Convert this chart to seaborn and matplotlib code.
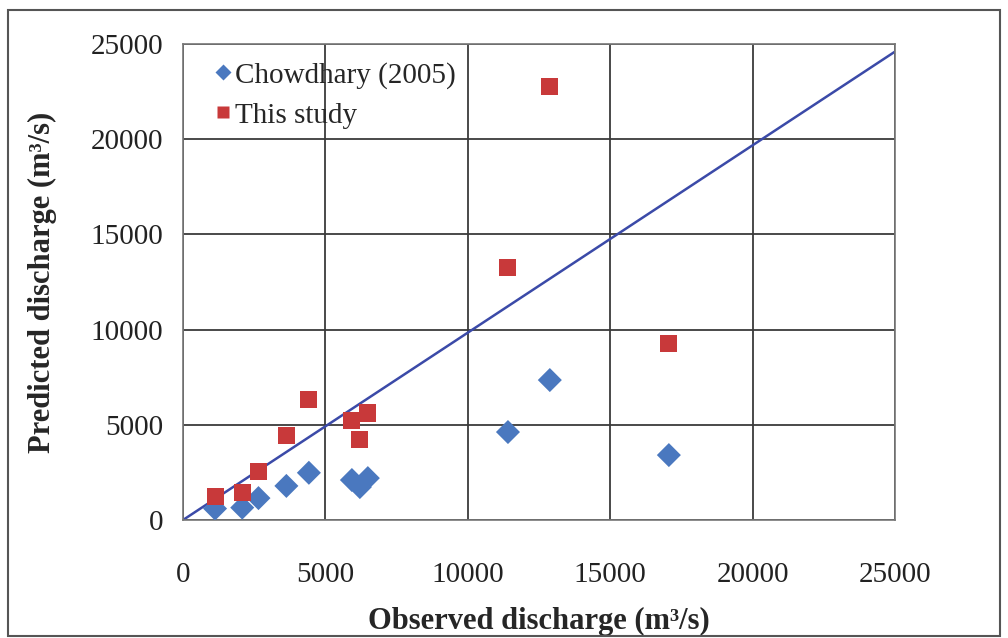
import matplotlib
matplotlib.use("Agg")
import matplotlib.pyplot as plt
import seaborn as sns
import pandas as pd
from matplotlib.patches import Rectangle

# Data
observed = [1125, 2080, 2650, 3630, 4420, 5930, 6210, 6490, 11410, 12880, 17060]
chowdhary = [600, 650, 1150, 1790, 2480, 2100, 1730, 2200, 4620, 7350, 3410]
this_study = [1210, 1470, 2570, 4460, 6350, 5250, 4250, 5620, 13280, 22790, 9290]
series_names = ["Chowdhary (2005)", "This study"]
line_x = [0, 25000]
line_y = [0, 24600]
ticks = [0, 5000, 10000, 15000, 20000, 25000]

df = pd.DataFrame({
    "Observed": observed * 2,
    "Predicted": chowdhary + this_study,
    "Series": [series_names[0]] * len(observed) + [series_names[1]] * len(observed),
})

sns.set_style("white")
plt.rcParams["font.family"] = ["Liberation Serif", "DejaVu Serif"]

fig = plt.figure(figsize=(10.08, 6.38), dpi=100)
ax = fig.add_axes([183 / 1008, 1 - 520 / 638, (895 - 183) / 1008, (520 - 44) / 638])

ax.set_axisbelow(True)
ax.grid(True, color="#3a3a3a", linewidth=1.3)

ax.plot(line_x, line_y, color="#3b4aa8", linewidth=1.8, zorder=2)

sns.scatterplot(
    data=df, x="Observed", y="Predicted", hue="Series", style="Series",
    palette={series_names[0]: "#4a78bf", series_names[1]: "#c8393a"},
    markers={series_names[0]: "D", series_names[1]: "s"},
    s=150, edgecolor="none", ax=ax, zorder=3,
)

ax.set_xlim(0, 25000)
ax.set_ylim(0, 25000)
ax.set_xticks(ticks)
ax.set_yticks(ticks)
ax.set_xticklabels([str(t) for t in ticks])
ax.set_yticklabels([str(t) for t in ticks])
ax.tick_params(axis="x", length=0, pad=30, labelsize=21, colors="#222222")
ax.tick_params(axis="y", length=0, pad=14, labelsize=21, colors="#222222")
for sp in ax.spines.values():
    sp.set_color("#777777")
    sp.set_linewidth(1.2)

ax.set_xlabel("Observed discharge (m³/s)", fontsize=22, fontweight="bold", labelpad=14)
ax.set_ylabel("Predicted discharge (m³/s)", fontsize=22, fontweight="bold", labelpad=24)

leg = ax.legend(loc="upper left", frameon=False, fontsize=21, handletextpad=0.1,
                borderaxespad=0.3, labelspacing=0.45, handlelength=0.6,
                bbox_to_anchor=(0.015, 1.005))
for h in leg.legend_handles:
    h.set_markersize(8)

fig.patches.append(Rectangle((8 / 1008, 2 / 638), 992 / 1008, 626 / 638,
                             transform=fig.transFigure, fill=False,
                             edgecolor="#555555", linewidth=1.5))

fig.savefig("out.png", dpi=100)
